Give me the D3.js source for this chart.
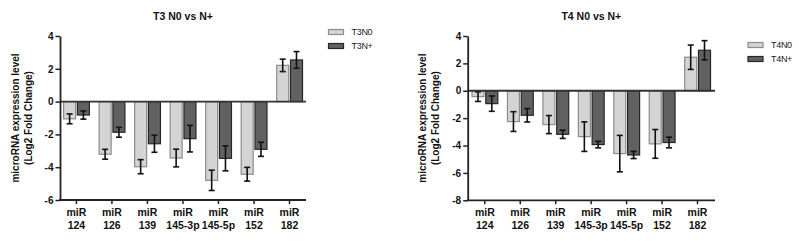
<!DOCTYPE html>
<html>
<head>
<meta charset="utf-8">
<script src="https://cdn.jsdelivr.net/npm/d3@7"></script>
<style>
  html, body { margin: 0; padding: 0; background: #fff; }
  svg { display: block; font-family: "Liberation Sans", Arial, sans-serif; }
</style>
</head>
<body>
<svg id="chart" width="799" height="241"></svg>
<script>
// ---- Data ----
const categories = ["124", "126", "139", "145-3p", "145-5p", "152", "182"];

const t3Titles = "T3 N0 vs N+";
const t3SeriesNames = ["T3N0", "T3N+"];
const t3N0 = [-1.05, -3.21, -3.97, -3.44, -4.80, -4.43, 2.21];
const t3N0Err = [0.30, 0.30, 0.43, 0.54, 0.62, 0.42, 0.38];
const t3Np = [-0.82, -1.87, -2.57, -2.26, -3.46, -2.91, 2.54];
const t3NpErr = [0.25, 0.30, 0.52, 0.81, 0.76, 0.43, 0.51];
const t3Ticks = [4, 2, 0, -2, -4, -6];

const t4Titles = "T4 N0 vs N+";
const t4SeriesNames = ["T4N0", "T4N+"];
const t4N0 = [-0.43, -2.25, -2.47, -3.35, -4.59, -3.88, 2.45];
const t4N0Err = [0.35, 0.72, 0.66, 1.08, 1.33, 1.05, 0.89];
const t4Np = [-0.94, -1.79, -3.18, -3.93, -4.69, -3.78, 2.96];
const t4NpErr = [0.56, 0.49, 0.30, 0.24, 0.26, 0.39, 0.70];
const t4Ticks = [4, 2, 0, -2, -4, -6, -8];

const yLabel1 = "microRNA expression level";
const yLabel2 = "(Log2 Fold Change)";
const catPrefix = "miR";

// ---- Drawing ----
const svg = d3.select("#chart");
const fills = ["#d4d4d4", "#616161"];
const strokes = ["#8c8c8c", "#262626"];

function panel(o) {
  const g = svg.append("g");
  const y = d3.scaleLinear().domain(o.yDomain).range([o.bottom, o.top]);
  const x = d3.scalePoint().domain(categories).range([o.c0, o.c1]);

  // bars
  const series = [
    { vals: o.v0, errs: o.e0, off: -12.3 },
    { vals: o.v1, errs: o.e1, off: 1.5 }
  ];
  const bw = 12;
  series.forEach((s, si) => {
    const bars = g.append("g");
    categories.forEach((c, i) => {
      const v = s.vals[i];
      const x0 = x(c) + s.off;
      bars.append("rect")
        .attr("x", x0).attr("width", bw)
        .attr("y", Math.min(y(v), y(0)))
        .attr("height", Math.abs(y(v) - y(0)))
        .attr("fill", fills[si]).attr("stroke", strokes[si]).attr("stroke-width", 1.2);
    });
  });
  // error bars
  series.forEach((s) => {
    const eb = g.append("g").attr("stroke", "#111").attr("stroke-width", 1.6);
    categories.forEach((c, i) => {
      const v = s.vals[i], e = s.errs[i];
      const cx = x(c) + s.off + bw / 2;
      eb.append("line").attr("x1", cx).attr("x2", cx).attr("y1", y(v - e)).attr("y2", y(v + e));
      eb.append("line").attr("x1", cx - 3).attr("x2", cx + 3).attr("y1", y(v - e)).attr("y2", y(v - e));
      eb.append("line").attr("x1", cx - 3).attr("x2", cx + 3).attr("y1", y(v + e)).attr("y2", y(v + e));
    });
  });

  // zero line
  g.append("line").attr("x1", o.left).attr("x2", o.right)
    .attr("y1", y(0)).attr("y2", y(0)).attr("stroke", "#333").attr("stroke-width", 1.8);

  // y axis
  const ya = g.append("g").attr("transform", `translate(${o.left},0)`)
    .call(d3.axisLeft(y).tickValues(o.ticks).tickFormat(d => String(d)).tickSize(4.5).tickSizeOuter(0).tickPadding(2));
  ya.select(".domain").attr("stroke", "#222").attr("stroke-width", 1.8);
  ya.selectAll(".tick line").attr("stroke", "#222").attr("stroke-width", 1.5);
  ya.selectAll(".tick text").attr("font-size", "10px").attr("font-weight", "bold").attr("fill", "#111")
    .attr("font-family", "Liberation Sans, Arial, sans-serif");

  // x axis
  const xa = g.append("g").attr("transform", `translate(0,${o.bottom})`)
    .call(d3.axisBottom(x).tickSize(4).tickSizeOuter(0).tickFormat(""));
  xa.select(".domain").remove();
  xa.selectAll(".tick line").attr("stroke", "#222").attr("stroke-width", 1.5);
  xa.append("line").attr("x1", o.left - 0.9).attr("x2", o.right).attr("y1", 0).attr("y2", 0)
    .attr("stroke", "#222").attr("stroke-width", 1.8);
  xa.selectAll(".tick").each(function(d) {
    const t = d3.select(this);
    t.append("text").attr("y", 16).attr("text-anchor", "middle").attr("fill", "#111")
      .attr("font-size", "10.5px").attr("font-weight", "bold").text(catPrefix);
    t.append("text").attr("y", 29).attr("text-anchor", "middle").attr("fill", "#111")
      .attr("font-size", "10.5px").attr("font-weight", "bold").text(d);
  });

  // title
  g.append("text").attr("x", (o.left + o.right) / 2).attr("y", o.titleY)
    .attr("text-anchor", "middle").attr("font-size", "10.5px").attr("font-weight", "bold")
    .attr("fill", "#111").text(o.title);

  // y label
  const ym = (o.top + o.bottom) / 2;
  g.append("text").attr("transform", `translate(${o.left - 45},${ym}) rotate(-90)`)
    .attr("text-anchor", "middle").attr("dominant-baseline", "central")
    .attr("font-size", "10px").attr("font-weight", "bold").attr("fill", "#111").text(yLabel1);
  g.append("text").attr("transform", `translate(${o.left - 32},${ym}) rotate(-90)`)
    .attr("text-anchor", "middle").attr("dominant-baseline", "central")
    .attr("font-size", "10px").attr("font-weight", "bold").attr("fill", "#111").text(yLabel2);

  // legend
  o.names.forEach((n, i) => {
    const ly = o.legY + i * 14;
    g.append("rect").attr("x", o.legX).attr("y", ly).attr("width", 15).attr("height", 5)
      .attr("fill", fills[i]).attr("stroke", strokes[i]).attr("stroke-width", 1.2);
    g.append("text").attr("x", o.legX + 23).attr("y", ly + 2.5)
      .attr("dominant-baseline", "central").attr("font-size", "9px").attr("fill", "#222")
      .attr("letter-spacing", "-0.3px").text(n);
  });
}

panel({
  left: 60, right: 306, top: 36, bottom: 200, c0: 75.9, c1: 289,
  yDomain: [-6, 4], ticks: t3Ticks, v0: t3N0, e0: t3N0Err, v1: t3Np, e1: t3NpErr,
  title: t3Titles, titleY: 20, names: t3SeriesNames, legX: 328.5, legY: 29.5
});
panel({
  left: 467.7, right: 715, top: 36, bottom: 200.3, c0: 484.3, c1: 697,
  yDomain: [-8, 4], ticks: t4Ticks, v0: t4N0, e0: t4N0Err, v1: t4Np, e1: t4NpErr,
  title: t4Titles, titleY: 19.5, names: t4SeriesNames, legX: 748, legY: 42.5
});
</script>
</body>
</html>
